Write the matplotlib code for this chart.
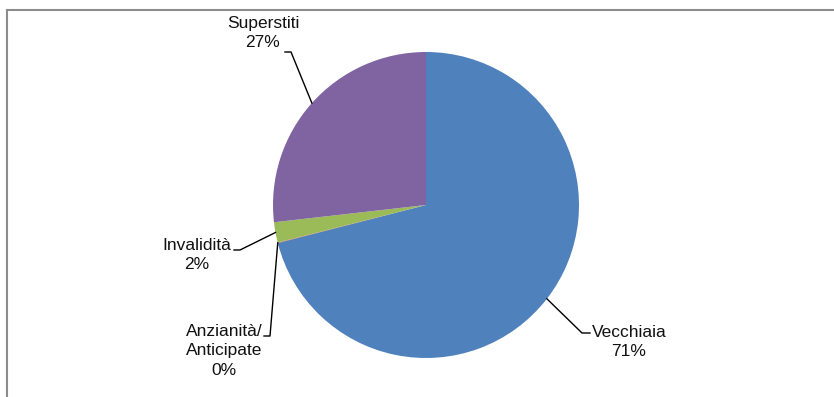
import matplotlib.pyplot as plt
import numpy as np

plt.rcParams['font.family'] = ['Liberation Sans', 'DejaVu Sans']

labels = ["Vecchiaia", "Anzianità/\nAnticipate", "Invalidità", "Superstiti"]
values = [71.0, 0.05, 2.15, 26.8]
pct_text = ["71%", "0%", "2%", "27%"]
colors = ["#4F81BD", "#C0504D", "#9BBB59", "#8064A2"]

W, H = 834, 397
fig = plt.figure(figsize=(W / 100, H / 100), dpi=100)
ax = fig.add_axes([0, 0, 1, 1])

cx, cy, r = 426, H - 205, 153
wedges, _ = ax.pie(values, colors=colors, startangle=90, counterclock=False,
                   center=(cx, cy), radius=r, frame=True,
                   wedgeprops=dict(linewidth=0))
ax.set_xlim(0, W)
ax.set_ylim(0, H)
ax.set_aspect('equal')
ax.axis('off')

# label layout: elbow points and text centre, in pixel coords
layout = [
    ([(582, 333), (590, 333)], (629, 342)),
    ([(270, 336), (264, 336)], (224, 351)),
    ([(240, 250), (234, 250)], (197, 255)),
    ([(291, 52), (285, 52)], (263, 33)),
]

for w, lab, pct, (pts, txt) in zip(wedges, labels, pct_text, layout):
    mid = np.deg2rad((w.theta1 + w.theta2) / 2)
    x0 = cx + r * np.cos(mid)
    y0 = cy + r * np.sin(mid)
    xs = [x0] + [p[0] for p in pts]
    ys = [y0] + [H - p[1] for p in pts]
    ax.plot(xs, ys, color='black', lw=1)
    ax.text(txt[0], H - txt[1], lab + "\n" + pct, ha='center', va='center',
            fontsize=12.5, color='#111111', linespacing=1.38)

# chart frame (top and left edges visible)
ax.plot([7, W + 5], [H - 9.5, H - 9.5], color='#8c8c8c', lw=1.5, clip_on=False)
ax.plot([7, 7], [H - 9.5, -5], color='#8c8c8c', lw=1.5, clip_on=False)

fig.savefig("out.png", dpi=100)
